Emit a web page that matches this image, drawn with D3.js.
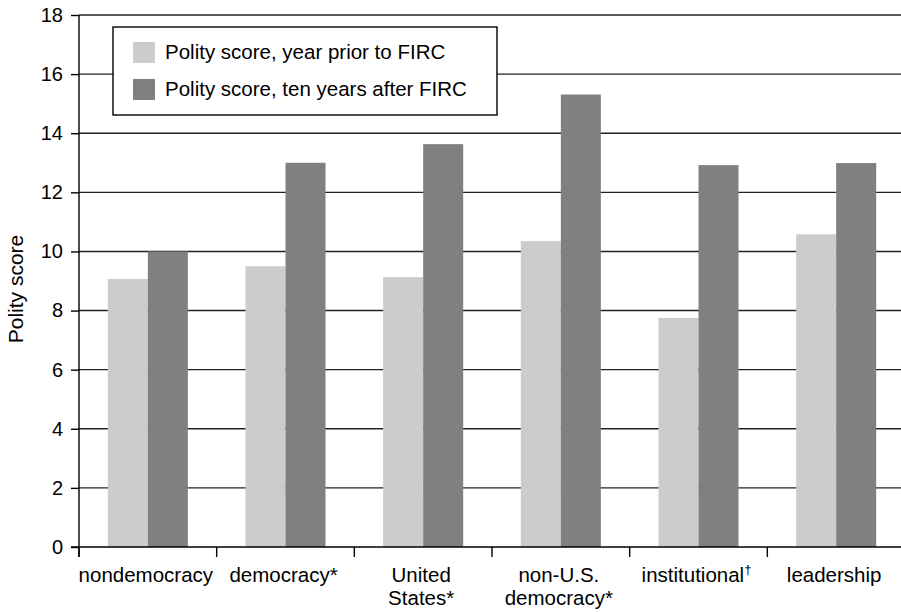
<!DOCTYPE html>
<html>
<head>
<meta charset="utf-8">
<script src="https://cdn.jsdelivr.net/npm/d3@7"></script>
<style>
  body { margin: 0; background: #fff; }
  svg { font-family: "Liberation Sans", Arial, sans-serif; }
</style>
</head>
<body>
<svg id="graph" width="901" height="612"></svg>
<script>
const categories = ["nondemocracy", "democracy*", "United States*", "non-U.S. democracy*", "institutional†", "leadership"];
const labelLines = [["nondemocracy"], ["democracy*"], ["United", "States*"], ["non-U.S.", "democracy*"], ["institutional†"], ["leadership"]];
const seriesNames = ["Polity score, year prior to FIRC", "Polity score, ten years after FIRC"];
const priorValues = [9.07, 9.5, 9.13, 10.35, 7.75, 10.58];
const afterValues = [10.0, 13.0, 13.63, 15.31, 12.92, 12.99];
const yTicks = [0, 2, 4, 6, 8, 10, 12, 14, 16, 18];
const colors = ["#cccccc", "#808080"];

const margin = { top: 15, right: -4, bottom: 65, left: 79 };
const width = 901;
const height = 612;

const data = categories.map((c, i) => ({ cat: c, lines: labelLines[i], values: [priorValues[i], afterValues[i]] }));

const x0 = d3.scaleBand()
  .domain(categories)
  .range([margin.left, width - margin.right])
  .padding(0);

const x1 = d3.scaleBand()
  .domain([0, 1])
  .range([0, x0.bandwidth()])
  .paddingInner(0)
  .paddingOuter(0.72);

const y = d3.scaleLinear()
  .domain([0, 18])
  .range([height - margin.bottom, margin.top]);

const svg = d3.select("#graph");

// gridlines
svg.append("g")
  .selectAll("line")
  .data(yTicks.filter(d => d > 0))
  .join("line")
  .attr("x1", margin.left)
  .attr("x2", width)
  .attr("y1", d => y(d))
  .attr("y2", d => y(d))
  .attr("stroke", "#222")
  .attr("stroke-width", 1.4);

// bars
svg.append("g")
  .selectAll("g")
  .data(data)
  .join("g")
  .attr("transform", d => `translate(${x0(d.cat)},0)`)
  .selectAll("rect")
  .data(d => d.values.map((v, k) => ({ k, v })))
  .join("rect")
  .attr("x", d => x1(d.k))
  .attr("width", x1.bandwidth())
  .attr("y", d => y(d.v))
  .attr("height", d => y(0) - y(d.v))
  .attr("fill", d => colors[d.k]);

// y axis
svg.append("g")
  .attr("transform", `translate(${margin.left},0)`)
  .call(d3.axisLeft(y).tickValues(yTicks).tickSize(8).tickPadding(8))
  .call(g => g.select(".domain").attr("d", `M0,${y(18)}V${y(0) + 10}`).attr("stroke", "#000").attr("stroke-width", 1.4))
  .call(g => g.selectAll(".tick line").attr("stroke", "#000").attr("stroke-width", 1.4))
  .call(g => g.selectAll(".tick text").attr("font-size", 20).attr("fill", "#000").attr("font-family", "Liberation Sans, Arial, sans-serif"));

// x axis line and boundary ticks
const xAxis = svg.append("g").attr("transform", `translate(0,${y(0)})`);
xAxis.append("line")
  .attr("x1", margin.left - 8)
  .attr("x2", width)
  .attr("stroke", "#000")
  .attr("stroke-width", 1.4);
xAxis.selectAll(".bt")
  .data(categories)
  .join("line")
  .attr("class", "bt")
  .attr("x1", d => x0(d))
  .attr("x2", d => x0(d))
  .attr("y1", 0)
  .attr("y2", 10)
  .attr("stroke", "#000")
  .attr("stroke-width", 1.4);

const lab = xAxis.selectAll(".lab")
  .data(data)
  .join("text")
  .attr("class", "lab")
  .attr("text-anchor", "middle")
  .attr("font-size", 20.5)
  .attr("fill", "#000");

lab.each(function(d) {
  const t = d3.select(this);
  d.lines.forEach((ln, i) => {
    const sp = t.append("tspan")
      .attr("x", x0(d.cat) + x0.bandwidth() / 2 - 2)
      .attr("y", 35 + i * 23);
    if (ln.endsWith("†")) {
      sp.text(ln.slice(0, -1));
      sp.append("tspan").attr("dy", -8).attr("font-size", 13).text("†");
    } else {
      sp.text(ln);
    }
  });
});

// y title
svg.append("text")
  .attr("transform", `translate(23,289) rotate(-90)`)
  .attr("text-anchor", "middle")
  .attr("font-size", 21)
  .text("Polity score");

// legend
const legend = svg.append("g").attr("transform", "translate(113,27)");
legend.append("rect")
  .attr("width", 384)
  .attr("height", 88)
  .attr("fill", "#fff")
  .attr("stroke", "#000")
  .attr("stroke-width", 1.4);
seriesNames.forEach((name, i) => {
  legend.append("rect")
    .attr("x", 20)
    .attr("y", 15 + i * 37)
    .attr("width", 22)
    .attr("height", 21)
    .attr("fill", colors[i]);
  legend.append("text")
    .attr("x", 52)
    .attr("y", 32 + i * 37)
    .attr("font-size", 20.5)
    .text(name);
});
</script>
</body>
</html>
